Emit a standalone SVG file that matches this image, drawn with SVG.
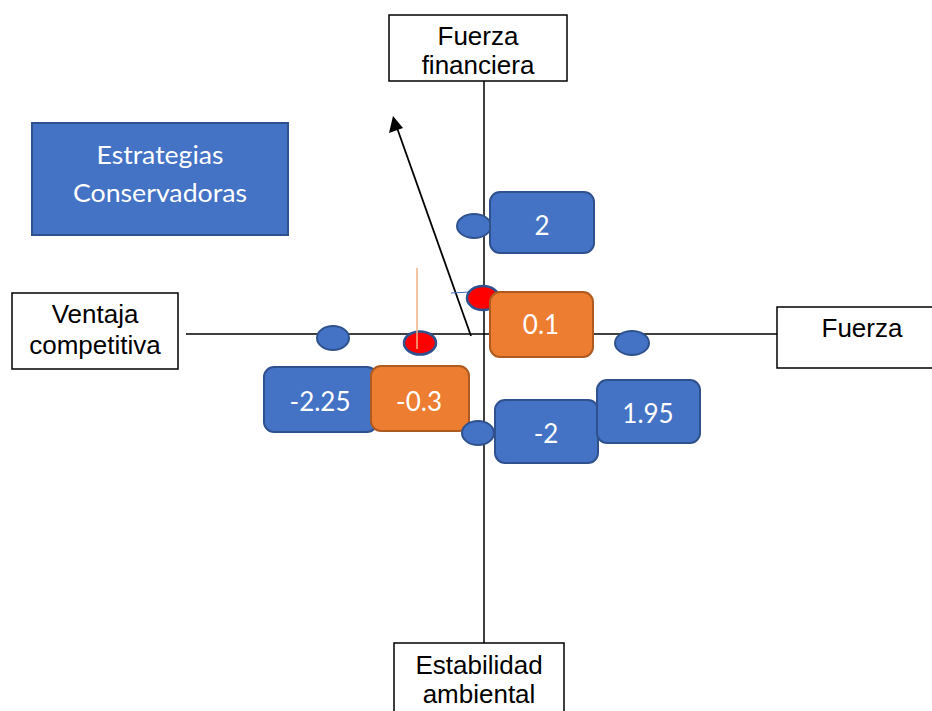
<svg xmlns="http://www.w3.org/2000/svg" width="932" height="711" viewBox="0 0 932 711">
<style>
.lbl{fill:#fff;stroke:#000;stroke-width:1.5}
.lt{font-family:"Liberation Sans",Arial,sans-serif;font-size:26px;fill:#000;text-anchor:middle}
.blue{fill:#4472C4;stroke:#2F528F;stroke-width:2}
.orange{fill:#ED7D31;stroke:#AE5A21;stroke-width:2}
.red{fill:#FF0000;stroke:#2F528F;stroke-width:2.5}
.nt{font-family:"Lato","Open Sans",sans-serif;font-size:26px;fill:#fff;text-anchor:middle}
.st{font-family:"Lato","Open Sans",sans-serif;font-size:25px;fill:#fff;text-anchor:middle}
.ax{stroke:#000;stroke-width:1.5;fill:none}
</style>
<rect width="932" height="711" fill="#fff"/>
<g id="connectors">
<line class="ax" x1="484" y1="81" x2="484" y2="643"/>
<line class="ax" x1="186" y1="334" x2="778" y2="334"/>
<line x1="471" y1="336" x2="396" y2="125" stroke="#000" stroke-width="1.8"/>
<path d="M393,116 L389,133 L403,128 z" fill="#000"/>
<line x1="451" y1="293" x2="470" y2="292" stroke="#4472C4" stroke-width="1"/>
</g>
<g id="fuerza-financiera">
<rect class="lbl" x="389" y="15" width="178" height="66"/>
<text class="lt" x="478" y="45">Fuerza</text>
<text class="lt" x="478" y="74">financiera</text>
</g>
<g id="ventaja-competitiva">
<rect class="lbl" x="12" y="293" width="166" height="76"/>
<text class="lt" x="95" y="323">Ventaja</text>
<text class="lt" x="95" y="354">competitiva</text>
</g>
<g id="fuerza">
<rect class="lbl" x="777" y="307" width="160" height="61"/>
<text class="lt" x="862" y="337">Fuerza</text>
</g>
<g id="estabilidad-ambiental">
<rect class="lbl" x="394" y="643" width="170" height="80"/>
<text class="lt" x="479" y="674" font-size="25">Estabilidad</text>
<text class="lt" x="479" y="703" font-size="25">ambiental</text>
</g>
<g id="estrategias">
<rect class="blue" x="32" y="123" width="256" height="112"/>
<text class="st" x="160" y="164" textLength="127" lengthAdjust="spacingAndGlyphs">Estrategias</text>
<text class="st" x="160" y="202" textLength="174" lengthAdjust="spacingAndGlyphs">Conservadoras</text>
</g>
<g id="dot-left"><ellipse class="blue" cx="333" cy="338" rx="16" ry="12"/></g>
<g id="dot-red-left">
<ellipse class="red" cx="420" cy="343" rx="16" ry="11.5"/>
<line x1="417" y1="268" x2="417" y2="349" stroke="#F4B183" stroke-width="1.5"/>
</g>
<g id="dot-right"><ellipse class="blue" cx="632" cy="343" rx="17" ry="12"/></g>
<g id="dot-top"><ellipse class="blue" cx="474" cy="226" rx="17" ry="12"/></g>
<g id="dot-red-top"><ellipse class="red" cx="483" cy="298" rx="16" ry="12"/></g>
<g id="box-2">
<rect class="blue" x="490" y="192" width="104" height="61" rx="10"/>
<text class="nt" x="542" y="235">2</text>
</g>
<g id="box-0-1">
<rect class="orange" x="490" y="292" width="103" height="65" rx="10"/>
<text class="nt" x="541" y="334">0.1</text>
</g>
<g id="box-m2-25">
<rect class="blue" x="264" y="367" width="113" height="65" rx="10"/>
<text class="nt" x="320" y="411">-2.25</text>
</g>
<g id="box-m0-3">
<rect class="orange" x="371" y="366" width="98" height="65" rx="10"/>
<text class="nt" x="419" y="411">-0.3</text>
</g>
<g id="dot-bottom"><ellipse class="blue" cx="478" cy="433" rx="16" ry="12"/></g>
<g id="box-m2">
<rect class="blue" x="495" y="400" width="103" height="63" rx="10"/>
<text class="nt" x="546" y="443">-2</text>
</g>
<g id="box-1-95">
<rect class="blue" x="597" y="380" width="103" height="63" rx="10"/>
<text class="nt" x="648" y="423">1.95</text>
</g>
</svg>
